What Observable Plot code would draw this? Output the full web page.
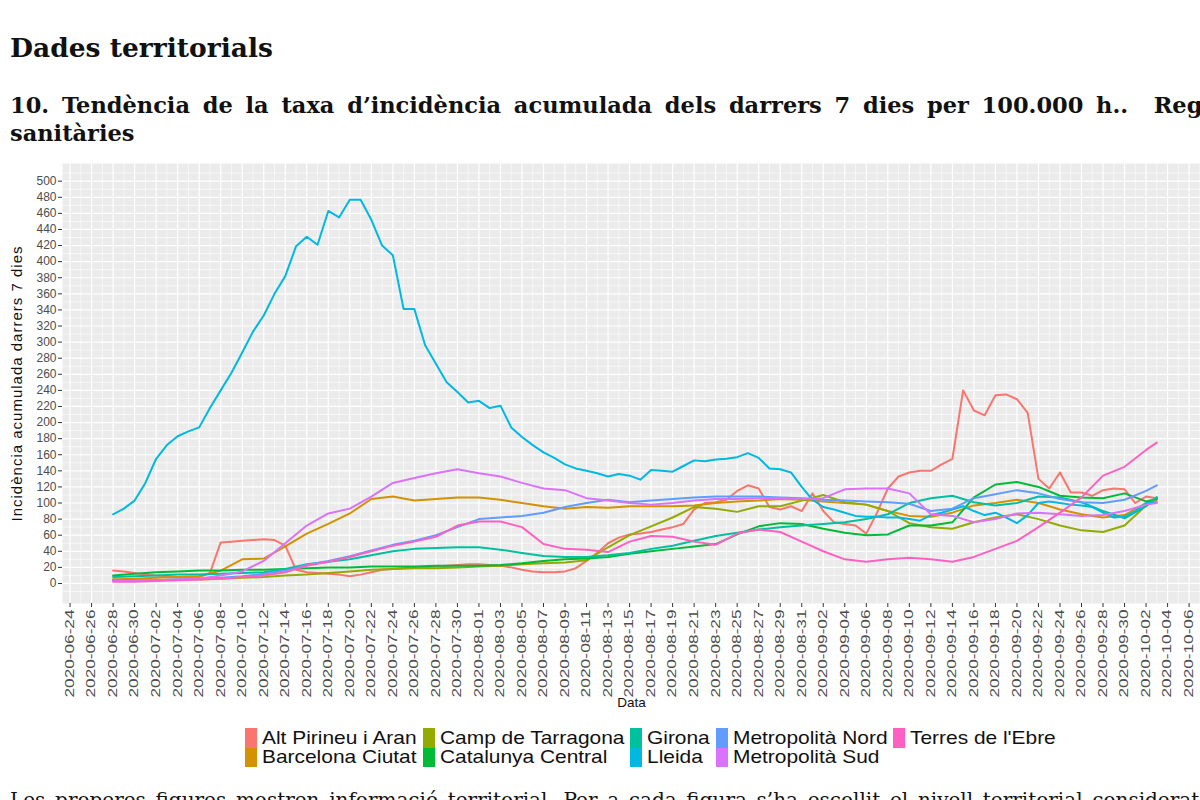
<!DOCTYPE html>
<html><head><meta charset="utf-8">
<script src="https://cdn.jsdelivr.net/npm/d3@7"></script>
<script src="https://cdn.jsdelivr.net/npm/@observablehq/plot@0.6"></script>
<style>
html,body{margin:0;padding:0;background:#fff;}
#page{position:relative;width:1200px;height:800px;overflow:hidden;background:#fff;}
.serif{position:absolute;left:10px;font-family:"DejaVu Serif",serif;color:#111;line-height:1;}
#h1{top:35px;font-size:26.5px;font-weight:bold;white-space:nowrap;}
#h2a{top:94px;width:1245px;font-size:22.5px;font-weight:bold;text-align:justify;text-align-last:justify;}
#h2b{top:122px;font-size:22.5px;font-weight:bold;white-space:nowrap;}
#foot{top:790px;width:1240px;font-size:20px;text-align:justify;text-align-last:justify;}
#chart{position:absolute;left:0;top:160px;}
#legend{position:absolute;left:245px;top:728px;display:flex;gap:6px;font-family:"Liberation Sans",Arial,sans-serif;font-size:18.5px;color:#111;}
.col{display:flex;flex-direction:column;}
.item{display:flex;align-items:center;height:19.5px;white-space:nowrap;}
.sw{width:12px;height:19.5px;margin-right:5px;flex:none;}
.labwrap{display:inline-block;overflow:visible;}
.lab{display:inline-block;transform:scaleX(1.13);transform-origin:0 50%;line-height:19px;}
</style></head>
<body><div id="page">
<div id="h1" class="serif">Dades territorials</div>
<div id="h2a" class="serif">10.&nbsp;Tendència de la taxa d’incidència acumulada dels darrers 7 dies per 100.000 h..&nbsp;&nbsp;Regions</div>
<div id="h2b" class="serif">sanitàries</div>
<div id="chart"></div>
<div id="legend"></div>
<div id="foot" class="serif">Les properes figures mostren informació territorial. Per a cada figura s’ha escollit el nivell territorial considerat més adequat</div>
</div>
<script>
// ---------- data ----------
const regions = ["Alt Pirineu i Aran","Barcelona Ciutat","Camp de Tarragona","Catalunya Central","Girona","Lleida","Metropolità Nord","Metropolità Sud","Terres de l'Ebre"];
const colors = ["#F8766D","#D39200","#93AA00","#00BA38","#00C19F","#00B9E3","#619CFF","#DB72FB","#FF61C3"];

const yTickValues = [0,20,40,60,80,100,120,140,160,180,200,220,240,260,280,300,320,340,360,380,400,420,440,460,480,500];
const xTickStart = "2020-06-24", xTickEnd = "2020-10-06";

// daily series (2020-06-28 .. 2020-10-03)
const dailyStart = "2020-06-28", dailyEnd = "2020-10-03";
const altPirineu = [16,15,13,11,10,9,8,8,8,13,
  51,52,53,54,55,54,47,17,14,13,
  12,11,9,11,14,17,18,19,20,20,
  21,22,23,24,24,23,22,20,17,15,
  14,14,15,19,28,38,50,57,61,62,
  64,67,70,74,92,100,101,104,115,122,
  118,95,92,96,90,112,90,76,74,72,
  62,88,118,133,138,140,140,148,155,240,
  215,209,234,235,229,212,130,118,138,113,
  113,109,116,118,117,100,108,106];
const lleida = [86,93,103,125,155,172,183,189,194,218,
  240,262,287,313,333,360,382,419,431,421,
  463,455,477,477,452,420,408,341,341,296,
  273,250,238,225,227,218,221,194,182,172,
  163,156,148,143,140,137,133,136,134,129,
  141,140,139,146,153,152,154,155,157,162,
  156,143,142,138,120,104,95,92,88,84,
  83,83,82,82,80,78,85,88,92,96,
  90,85,88,82,75,85,100,102,100,98,
  97,95,88,82,83,90,100,101];

// series read every second day
const dates2 = ["2020-06-28","2020-06-30","2020-07-02","2020-07-04","2020-07-06","2020-07-08","2020-07-10","2020-07-12","2020-07-14","2020-07-16",
  "2020-07-18","2020-07-20","2020-07-22","2020-07-24","2020-07-26","2020-07-28","2020-07-30","2020-08-01","2020-08-03","2020-08-05",
  "2020-08-07","2020-08-09","2020-08-11","2020-08-13","2020-08-15","2020-08-17","2020-08-19","2020-08-21","2020-08-23","2020-08-25",
  "2020-08-27","2020-08-29","2020-08-31","2020-09-02","2020-09-04","2020-09-06","2020-09-08","2020-09-10","2020-09-12","2020-09-14",
  "2020-09-16","2020-09-18","2020-09-20","2020-09-22","2020-09-24","2020-09-26","2020-09-28","2020-09-30","2020-10-02","2020-10-03"];
const barcelona = [5,6,7,8,9,16,30,31,46,62, 74,87,105,108,103,105,107,107,104,100, 96,93,95,94,96,96,96,97,100,102, 103,105,104,102,100,98,90,84,83,88, 97,100,104,100,92,86,82,85,100,104];
const campTarragona = [5,4,4,5,5,6,7,8,10,11, 13,15,17,18,19,19,20,21,22,24, 25,26,29,45,60,71,82,95,93,89, 96,96,103,110,101,98,90,75,70,68, 76,82,86,80,72,66,64,72,97,107];
const catalunyaCentral = [10,12,14,15,16,16,17,17,18,19, 20,20,21,21,21,22,22,22,23,25, 28,30,31,33,37,40,43,46,49,61, 71,75,74,68,63,60,61,72,72,76, 107,123,126,120,109,107,106,112,102,105];
const girona = [8,9,10,11,11,12,13,14,18,24, 27,30,35,40,43,44,45,45,42,38, 34,33,33,35,38,43,47,53,59,63, 67,70,72,74,76,80,86,100,106,109, 101,97,100,108,107,101,90,81,96,107];
const metroNord = [4,3,4,5,6,7,9,12,16,23, 28,34,41,48,53,60,70,80,82,84, 88,95,100,104,101,103,105,107,108,108, 108,107,106,104,103,102,101,99,90,93, 106,111,116,112,105,101,100,104,115,122];
const metroSud = [3,3,4,5,6,10,15,28,50,72, 87,93,108,125,131,137,142,137,133,125, 118,116,106,103,100,98,100,103,105,105, 106,106,105,106,117,118,118,112,86,84, 76,80,87,88,86,84,85,90,98,100];
const terres = [2,2,3,4,5,6,8,10,14,22, 27,33,40,47,52,58,72,77,77,70, 49,43,42,39,52,59,58,52,48,62, 67,64,52,40,30,27,30,32,30,27, 33,43,53,70,88,107,134,145,166,175];

// ---------- build table ----------
const parse = d3.utcParse("%Y-%m-%d");
const datesDaily = d3.utcDay.range(parse(dailyStart), d3.utcDay.offset(parse(dailyEnd), 1));
const rows = [];
function add(region, dates, values) {
  values.forEach((v, i) => rows.push({region, date: typeof dates[i] === "string" ? parse(dates[i]) : dates[i], value: v}));
}
add("Alt Pirineu i Aran", datesDaily, altPirineu);
add("Barcelona Ciutat", dates2, barcelona);
add("Camp de Tarragona", dates2, campTarragona);
add("Catalunya Central", dates2, catalunyaCentral);
add("Girona", dates2, girona);
add("Lleida", datesDaily, lleida);
add("Metropolità Nord", dates2, metroNord);
add("Metropolità Sud", dates2, metroSud);
add("Terres de l'Ebre", dates2, terres);

// ---------- scales / layout ----------
const DAY = 864e5;
const ref = parse("2020-06-28");
const pxPerDay = 10.76, refPx = 112.6, left = 62, right = 1200;
const xDomain = [new Date(+ref - (refPx - left) / pxPerDay * DAY), new Date(+ref + (right - refPx) / pxPerDay * DAY)];
const xTicks = d3.utcDay.range(parse(xTickStart), d3.utcDay.offset(parse(xTickEnd), 1), 2);
const xMinor = d3.utcDay.range(d3.utcDay.offset(parse(xTickStart), -1), d3.utcDay.offset(parse(xTickEnd), 2), 2);
const yMinor = d3.range(-10, 520, 20);

const chart = Plot.plot({
  width: 1200, height: 560,
  marginTop: 3, marginBottom: 117, marginLeft: left, marginRight: 0,
  style: {background: "transparent", fontFamily: "'Liberation Sans', Arial, sans-serif", color: "#4d4d4d", overflow: "visible"},
  x: {type: "utc", domain: xDomain},
  y: {domain: [-24.9, 522]},
  color: {domain: regions, range: colors},
  marks: [
    Plot.frame({fill: "#ebebeb", stroke: null}),
    Plot.gridY(yMinor, {stroke: "#ffffff", strokeOpacity: 1, strokeWidth: 0.6}),
    Plot.gridY(yTickValues, {stroke: "#ffffff", strokeOpacity: 1, strokeWidth: 1.2}),
    Plot.gridX(xMinor, {stroke: "#ffffff", strokeOpacity: 1, strokeWidth: 0.6}),
    Plot.gridX(xTicks, {stroke: "#ffffff", strokeOpacity: 1, strokeWidth: 1.2}),
    Plot.line(rows, {x: "date", y: "value", z: "region", stroke: "region", strokeWidth: 2}),
    Plot.axisY(yTickValues, {tickSize: 4, tickPadding: 2, fontSize: 12, label: null, stroke: "#333333", fill: "#4d4d4d"}),
    Plot.axisX(xTicks, {tickFormat: d3.utcFormat("%Y-%m-%d"), tickRotate: -90, tickSize: 4, tickPadding: 2, fontSize: 12, label: null, stroke: "#333333", fill: "#4d4d4d"}),
    Plot.text(["Data"], {frameAnchor: "bottom", dy: 103, fontSize: 13.5, fill: "#111"}),
    Plot.text(["Incidència acumulada darrers 7 dies"], {frameAnchor: "left", textAnchor: "middle", dx: -45, rotate: -90, fontSize: 15, fill: "#111"})
  ]
});
document.getElementById("chart").appendChild(chart);

// stretch rotated tick labels to the reference's length
chart.querySelectorAll('g[aria-label="x-axis tick label"] text').forEach(t => {
  t.setAttribute("textLength", 88);
  t.setAttribute("lengthAdjust", "spacingAndGlyphs");
});
chart.querySelectorAll('g[aria-label="text"] text').forEach(t => {
  if (t.textContent.startsWith("Incid")) t.style.letterSpacing = "1px";
});

// ---------- legend ----------
const legend = document.getElementById("legend");
const labs = [];
for (let c = 0; c < regions.length; c += 2) {
  const col = document.createElement("div");
  col.className = "col";
  for (let k = c; k < Math.min(c + 2, regions.length); k++) {
    const it = document.createElement("div");
    it.className = "item";
    const sw = document.createElement("span");
    sw.className = "sw";
    sw.style.background = colors[k];
    const wrap = document.createElement("span");
    wrap.className = "labwrap";
    const lab = document.createElement("span");
    lab.className = "lab";
    lab.textContent = regions[k];
    wrap.appendChild(lab);
    it.appendChild(sw); it.appendChild(wrap);
    col.appendChild(it);
    labs.push([wrap, lab]);
  }
  legend.appendChild(col);
}
labs.forEach(([wrap, lab]) => { wrap.style.width = lab.getBoundingClientRect().width + "px"; });
</script>
</body></html>
